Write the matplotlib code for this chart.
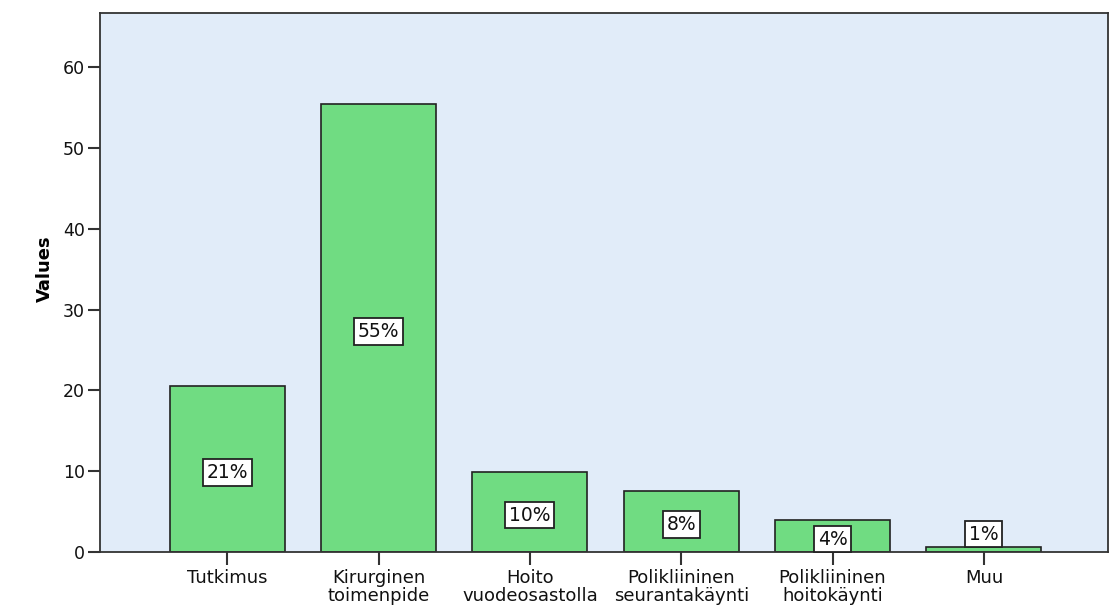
import numpy as np
import matplotlib.pyplot as plt

plt.rcParams['font.family'] = ['DejaVu Sans']

categories = ['Tutkimus', 'Kirurginen\ntoimenpide', 'Hoito\nvuodeosastolla',
              'Polikliininen\nseurantakäynti', 'Polikliininen\nhoitokäynti', 'Muu']
values = [20.5, 55.4, 9.9, 7.6, 4.0, 0.6]
labels = ['21%', '55%', '10%', '8%', '4%', '1%']

fig = plt.figure(figsize=(11.14, 6.13), dpi=100)
ax = fig.add_axes([0.0898, 0.0995, 0.9048, 0.8793])
ax.set_facecolor('#E1ECF9')

x = np.arange(len(categories))
ax.bar(x, values, width=0.76, color='#70DC82', edgecolor='#222222', linewidth=1.2, zorder=2)

# percentage boxes, pushed up when the bar is too short to hold them
for xi, v, lab in zip(x, values, labels):
    y = v / 2 - 0.4
    if y < 1:
        y = 2.2
    ax.text(xi, y, lab, ha='center', va='center', fontsize=13.5, color='#111111', zorder=3,
            bbox=dict(boxstyle='square,pad=0.2', facecolor='white', edgecolor='#222222', linewidth=1.3))

ax.set_xlim(-0.84, 5.82)
ax.set_ylim(0, 66.7)
ax.set_xticks(x)
ax.set_xticklabels(categories, fontsize=13, linespacing=1.05, color='#111111')
ax.set_yticks(np.arange(0, 61, 10))
ax.tick_params(axis='y', labelsize=12.5, labelcolor='#111111', length=9, width=1.5, color='#333333', pad=2)
ax.tick_params(axis='x', length=9, width=1.5, color='#333333', pad=3)
ax.set_ylabel('Values', fontsize=13, fontweight='bold')
ax.yaxis.set_label_coords(-0.046, 0.525)

for side in ['left', 'top', 'right', 'bottom']:
    ax.spines[side].set_linewidth(1.3)
    ax.spines[side].set_color('#333333')

fig.savefig('out.png', dpi=100)
